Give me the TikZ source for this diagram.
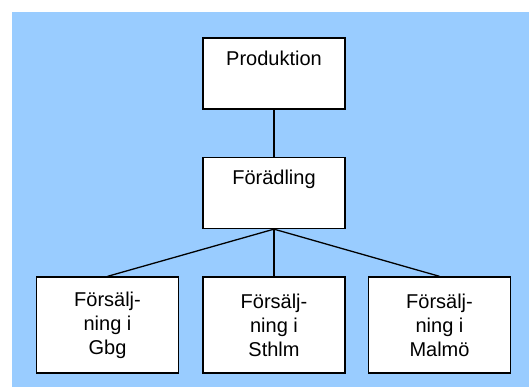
\documentclass[tikz,border=0pt]{standalone}
\usepackage{fontspec}
\setmainfont{Liberation Sans}
\definecolor{bgblue}{HTML}{99CCFF}

\begin{document}
\begin{tikzpicture}[x=1pt, y=-1pt]
        \tikzstyle{box}=[draw, fill=white, line width=1.3pt, minimum width=142pt, align=center, inner sep=0pt, font=\fontsize{20}{24}\selectfont]
        \tikzstyle{level a}=[box, minimum height=71pt]
        \tikzstyle{level b}=[box, minimum height=96pt]
        \useasboundingbox (0,0) rectangle (529,387);
        \fill [bgblue] (12,12) rectangle (529,387);
        \node [level a] (prod) at (274,73.5) {Produktion\\ \strut};
        \node [level a] (ford) at (274,193) {Förädling\\ \strut};
        \node [level b] (gbg) at (107.5,325) {Försälj-\\ning i\\Gbg};
        \node [level b] (sthlm) at (274,325) {Försälj-\\ning i\\Sthlm};
        \node [level b] (malmo) at (439.5,325) {Försälj-\\ning i\\Malmö};
        \draw [line width=1.3pt] (prod.south) -- (ford.north);
        \draw [line width=1.3pt] (ford.south) -- (gbg.north);
        \draw [line width=1.3pt] (ford.south) -- (sthlm.north);
        \draw [line width=1.3pt] (ford.south) -- (malmo.north);
    \end{tikzpicture}
\end{document}
